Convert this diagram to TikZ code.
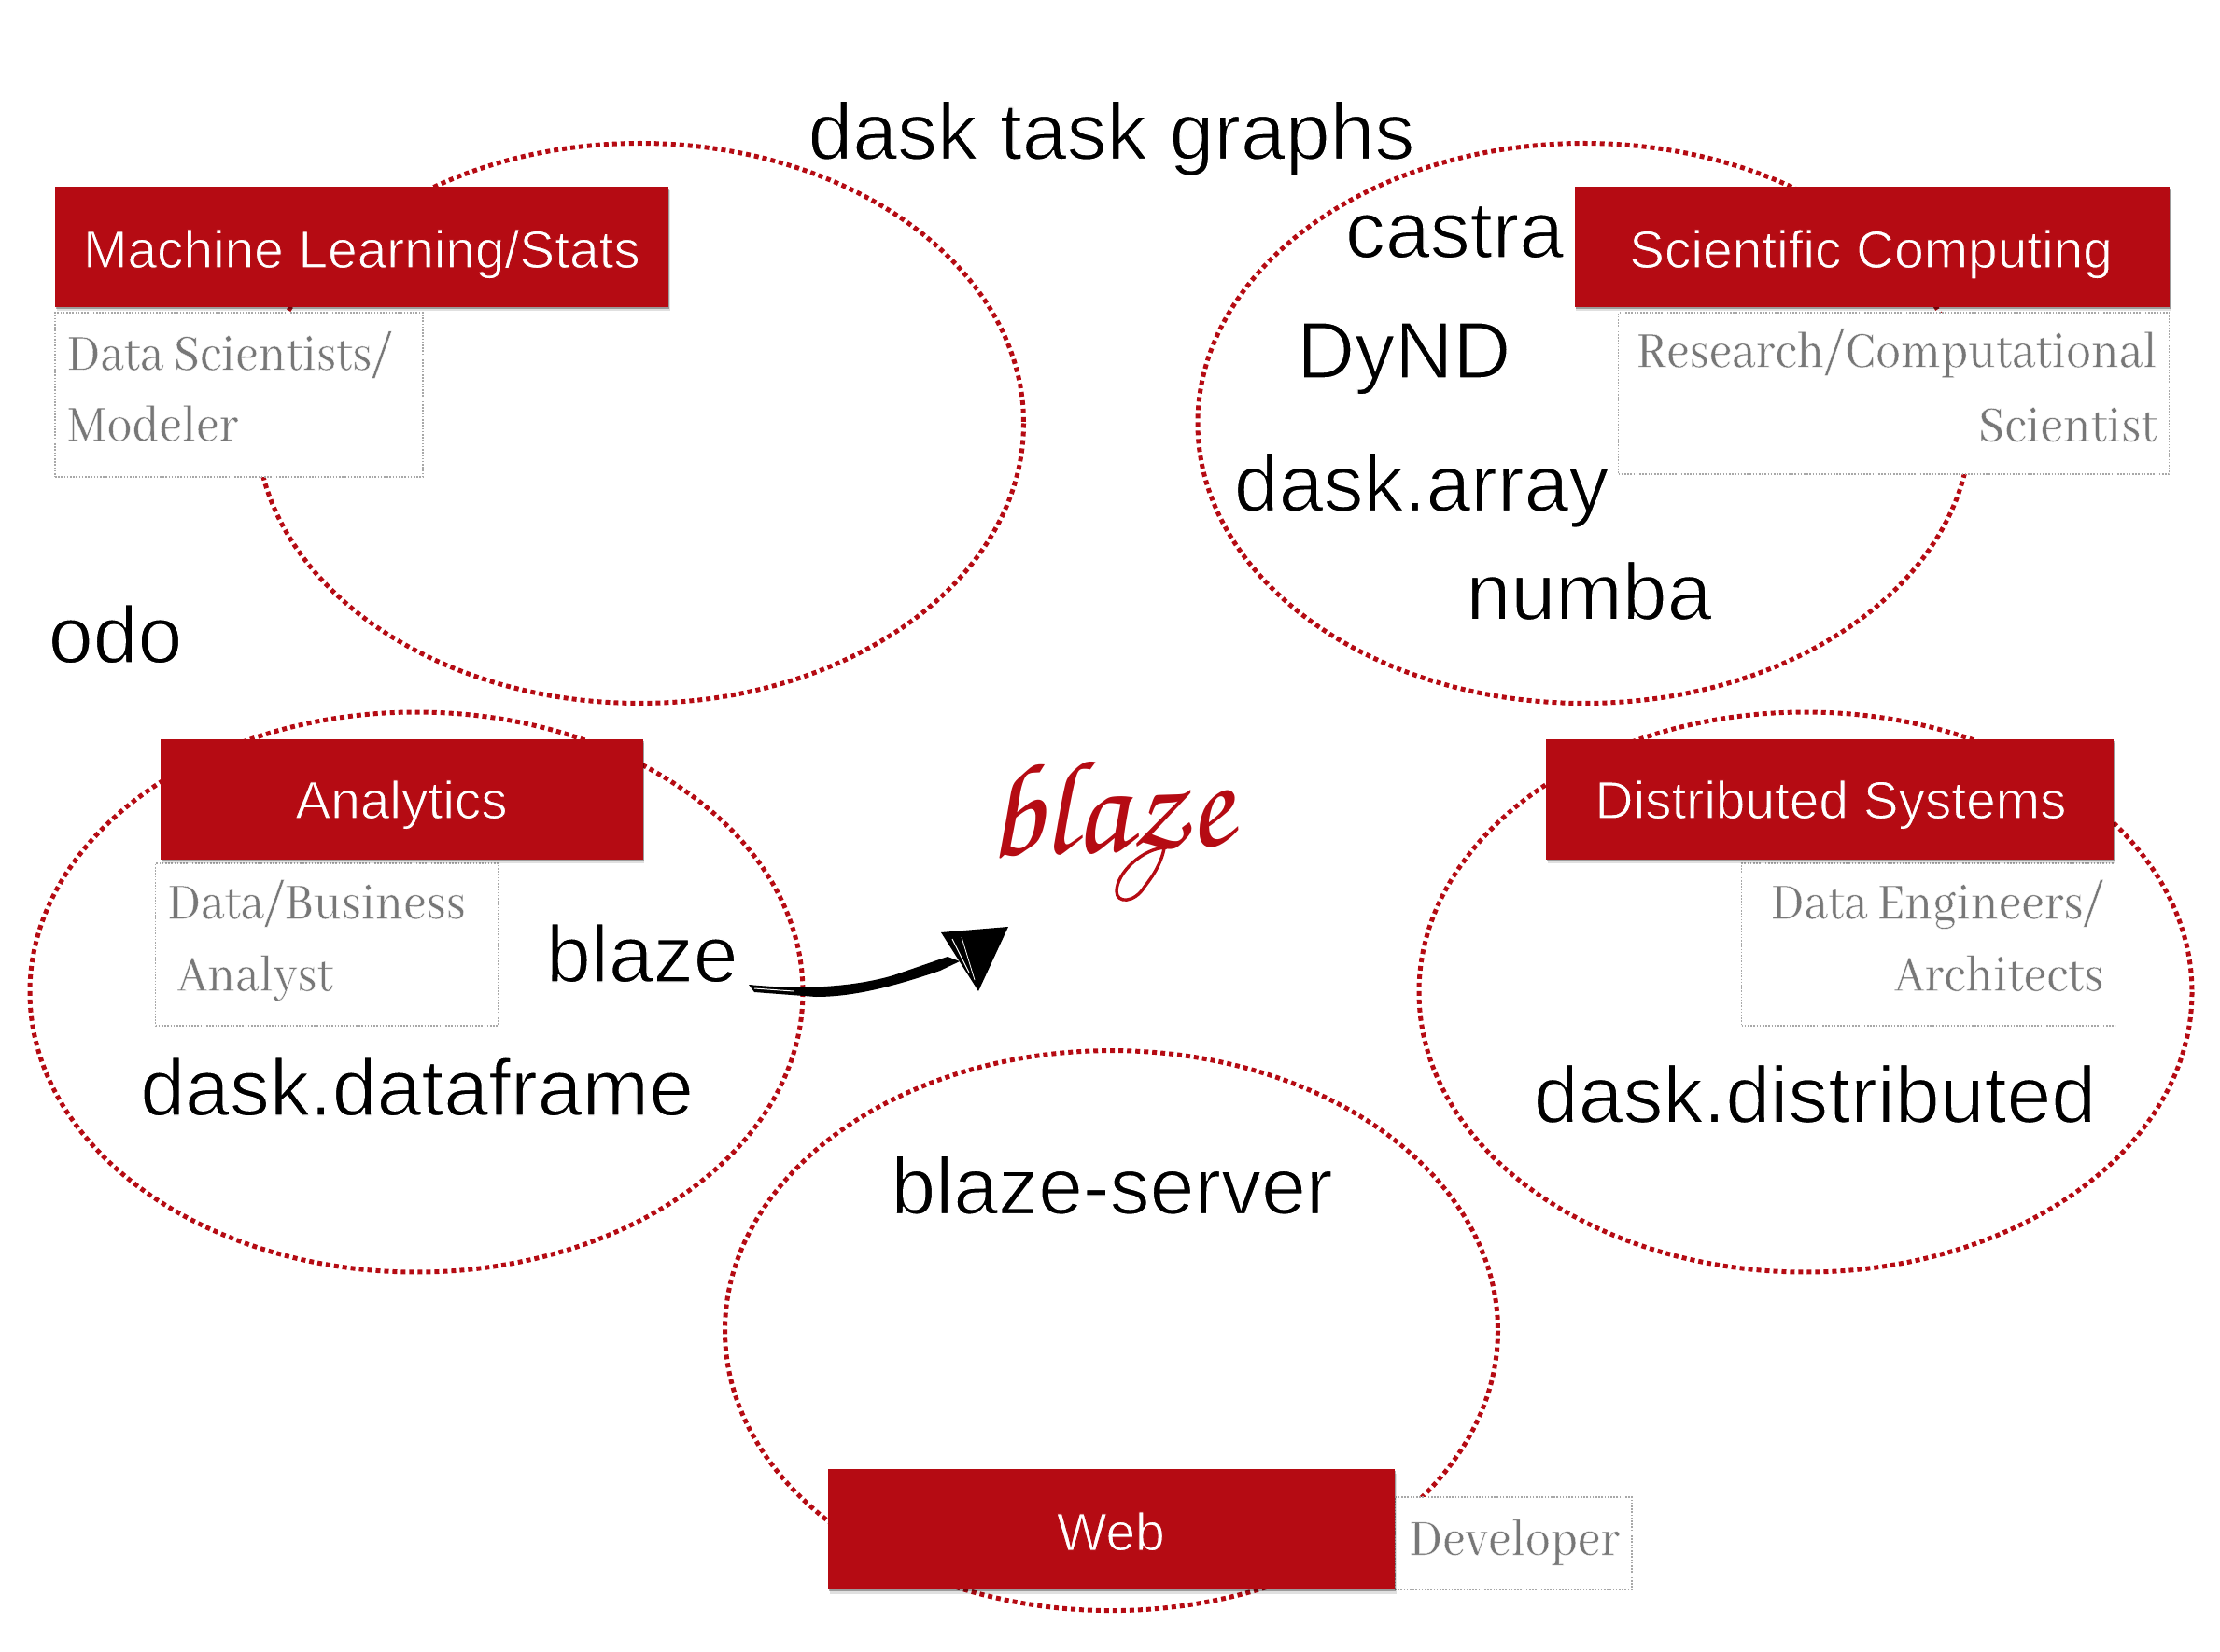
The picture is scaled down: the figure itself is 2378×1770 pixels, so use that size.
\documentclass[tikz,border=0pt]{standalone}
\usepackage{fontspec}
\usetikzlibrary{shadows}
\setmainfont{Liberation Sans}
\newfontfamily\rolefont[FakeStretch=0.9]{Abhaya Libre}
\newfontfamily\logofont{TeX Gyre Chorus}
\definecolor{bred}{HTML}{B50B13}
\definecolor{rolegrey}{HTML}{777777}
\definecolor{roleedge}{HTML}{A8A8A8}
% thin the glyphs: stroke them in the colour of the ground
\newcommand\slim[3]{\special{pdf:code 2 Tr #2 w #1 RG}#3\special{pdf:code 0 Tr}}
\newcommand\onwhite[1]{\slim{1 1 1}{.7}{#1}}
\newcommand\onred[1]{\slim{.71 .043 .075}{.5}{#1}}
\newcommand\onrole[1]{\slim{1 1 1}{.18}{#1}}
\tikzset{
  x=0.5pt,y=-0.5pt,
  orbit/.style={draw=bred,line width=2.5pt,dash pattern=on 2.5pt off 2pt},
  redbox/.style={fill=bred,inner sep=0pt,minimum height=64.5pt,
     drop shadow={shadow xshift=.5pt,shadow yshift=-1pt,opacity=.3,fill=black},
     drop shadow={shadow xshift=.8pt,shadow yshift=-2.2pt,opacity=.12,fill=black}},
  boxtext/.style={text=white,inner sep=0pt,anchor=base,font=\fontsize{28.4}{28.4}\selectfont},
  rolebox/.style={fill=white,draw=roleedge,line width=.8pt,dash pattern=on .8pt off .8pt,inner sep=0pt},
  big/.style={text=black,inner sep=0pt,font=\fontsize{43}{43}\selectfont,anchor=base},
  roletext/.style={text=rolegrey,inner sep=0pt,font=\rolefont\fontsize{30}{30}\selectfont,anchor=base west},
  roletextr/.style={roletext,anchor=base east},
}
\begin{document}
\begin{tikzpicture}
\useasboundingbox (0,0) rectangle (2378,1770);
% orbits
\draw[orbit] (685.5,453.5) ellipse [x radius=411,y radius=300];
\draw[orbit] (1697,453.5) ellipse [x radius=414,y radius=300];
\draw[orbit] (446,1063) ellipse [x radius=414,y radius=300];
\draw[orbit] (1934,1063) ellipse [x radius=414,y radius=300];
\draw[orbit] (1190.5,1425.6) ellipse [x radius=414,y radius=300];
% role boxes
\node[rolebox,minimum width=197pt,minimum height=88pt] (rml) at (256,423) {};
\node[rolebox,minimum width=295pt,minimum height=86.5pt] (rsc) at (2028.5,421.5) {};
\node[rolebox,minimum width=183.5pt,minimum height=87pt] (ran) at (350,1012) {};
\node[rolebox,minimum width=200pt,minimum height=87pt] (rds) at (2065.6,1012) {};
\node[rolebox,minimum width=127pt,minimum height=49.5pt] (rwe) at (1621,1653.5) {};
% red boxes
\node[redbox,minimum width=328.5pt] (ml) at (387.5,264.5) {};
\node[redbox,minimum width=318.5pt] (sc) at (2005,264.5) {};
\node[redbox,minimum width=258.5pt] (an) at (430,856) {};
\node[redbox,minimum width=304pt] (ds) at (1960,856) {};
\node[redbox,minimum width=303.5pt] (we) at (1190.5,1638.7) {};
\node[boxtext] (mlt) at (387.5,287) {\onred{Machine Learning/Stats}};
\node[boxtext] (sct) at (2004,287) {\onred{Scientific Computing}};
\node[boxtext] (ant) at (430,877) {\onred{Analytics}};
\node[boxtext] (dst) at (1961,877) {\onred{Distributed Systems}};
\node[boxtext] (wet) at (1189.8,1661) {\onred{Web}};
% role text
\node[roletext] (t1) at (71.3,396.4) {\onrole{Data Scientists/}};
\node[roletext] (t2) at (71.3,472.4) {\onrole{Modeler}};
\node[roletextr] (t3) at (2311,393.4) {\onrole{Research/Computational}};
\node[roletextr] (t4) at (2311,473) {\onrole{Scientist}};
\node[roletext] (t5) at (179,984.3) {\onrole{Data/Business}};
\node[roletext] (t6) at (189.6,1061.6) {\onrole{Analyst}};
\node[roletextr] (t7) at (2253.7,984.3) {\onrole{Data Engineers/}};
\node[roletextr] (t8) at (2253.7,1061.6) {\onrole{Architects}};
\node[roletext] (t9) at (1509,1666) {\onrole{Developer}};
% big labels
\node[big] (a) at (1190.5,170.6) {\onwhite{dask task graphs}};
\node[big] (b) at (1558,276) {\onwhite{castra}};
\node[big] (c) at (1503.7,405) {\onwhite{DyND}};
\node[big] (d) at (1522.6,547.5) {\onwhite{dask.array}};
\node[big] (e) at (1702,663.8) {\onwhite{numba}};
\node[big] (f) at (123.6,710) {\onwhite{odo}};
\node[big] (g) at (687.8,1052) {\onwhite{blaze}};
\node[big] (h) at (446.6,1195) {\onwhite{dask.dataframe}};
\node[big] (i) at (1944,1202.7) {\onwhite{dask.distributed}};
\node[big] (j) at (1191,1300.5) {\onwhite{blaze-server}};
% logo
\node[inner sep=0pt,anchor=base,text=bred,rotate=3,font=\logofont\fontsize{71}{71}\selectfont] (logo) at (1190,912) {blaze};
\draw[bred,line width=1.7pt] (1250,908) .. controls (1225,908) and (1196,935) .. (1196,955)
  .. controls (1196,968) and (1215,968) .. (1226,950) .. controls (1238,935) and (1246,920) .. (1248,903);
% arrow
\coordinate (tail) at (802,1055);
\coordinate (tip) at (1080,993);
\fill[black] (tail) .. controls (862,1061) and (916,1057) .. (957,1045) -- (1015,1025) -- (1028,1030) -- (1007,1040)
  .. controls (960,1056) and (916,1068) .. (874,1068) -- (808,1063) -- cycle;
\fill[black] (1008,999) -- (tip) -- (1048,1062) -- cycle;
\draw[white,line width=.5pt] (808,1059) -- (850,1062);
\draw[white,line width=.5pt] (1020,1006) -- (1038,1042);
\draw[white,line width=.4pt] (1030,1004) -- (1044,1050);
\end{tikzpicture}
\end{document}
